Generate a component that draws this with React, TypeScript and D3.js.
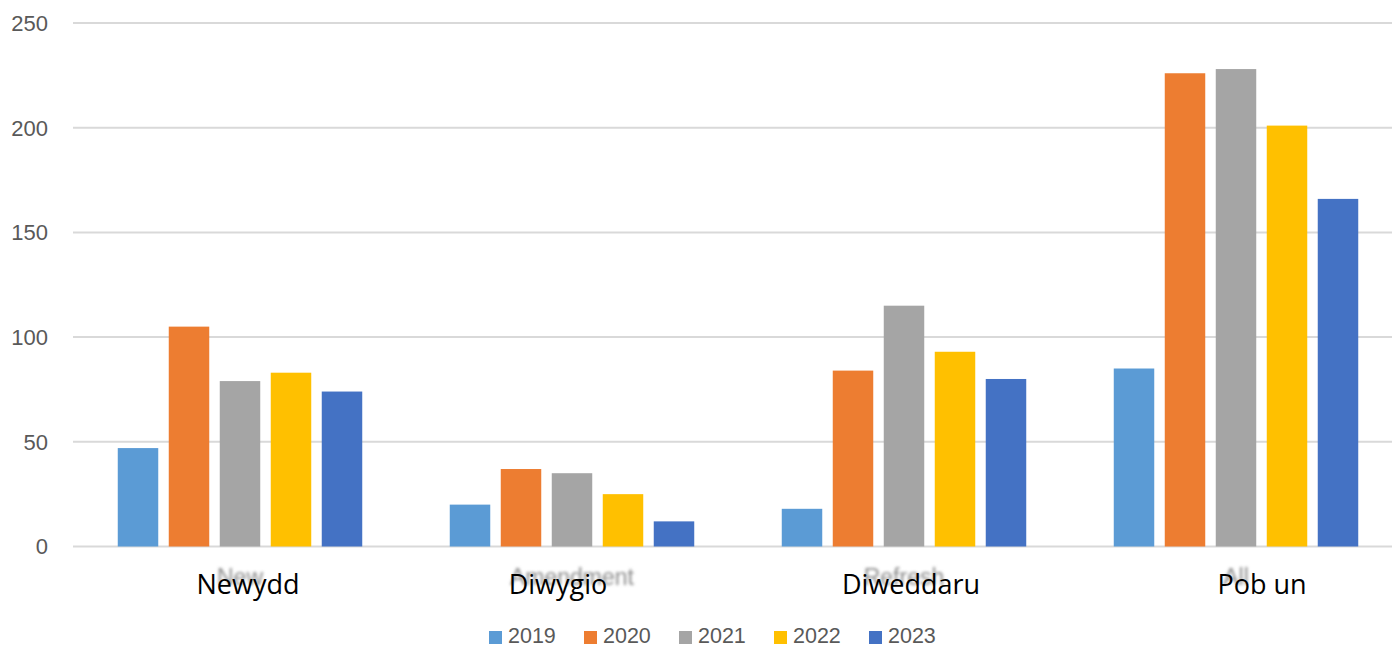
import React from "react";
import * as d3 from "d3";

const categoriesEn = ["New", "Amendment", "Refresh", "All"];
const categoriesCy = ["Newydd", "Diwygio", "Diweddaru", "Pob un"];
const seriesNames = ["2019", "2020", "2021", "2022", "2023"];
const values2019 = [47, 20, 18, 85];
const values2020 = [105, 37, 84, 226];
const values2021 = [79, 35, 115, 228];
const values2022 = [83, 25, 93, 201];
const values2023 = [74, 12, 80, 166];
const yTicks = [0, 50, 100, 150, 200, 250];

const seriesValues = [values2019, values2020, values2021, values2022, values2023];
const colors = ["#5B9BD5", "#ED7D31", "#A5A5A5", "#FFC000", "#4472C4"];
// overlay label horizontal shifts (layout only)
const cyLabelShift = [8, -14, 7, 26];

const W = 1392;
const H = 648;

export default function App() {
  const y = d3.scaleLinear().domain([0, 250]).range([546.5, 23]);
  const x0 = d3.scaleBand<string>().domain(categoriesEn).range([74, 1402]).paddingInner(0).paddingOuter(0);
  const x1 = d3
    .scaleBand<string>()
    .domain(seriesNames)
    .range([0, x0.bandwidth()])
    .paddingInner(0.206)
    .paddingOuter(0.858);

  const legendX = d3.scalePoint<string>().domain(seriesNames).range([489, 869]);

  return (
    <div style={{ position: "absolute", left: 0, top: 0 }}>
      <svg width={W} height={H} style={{ display: "block", background: "#fff" }}>
        <defs>
          <filter id="blurEn" filterUnits="userSpaceOnUse" x="0" y="540" width={W} height="80">
            <feGaussianBlur stdDeviation="1.6" />
          </filter>
        </defs>
        {yTicks.map((t) => (
          <g key={t}>
            <line x1={73} x2={W} y1={y(t)} y2={y(t)} stroke="#d9d9d9" strokeWidth={2} />
            <text
              x={48}
              y={y(t)}
              dy="0.36em"
              textAnchor="end"
              fontFamily="'Liberation Sans', Arial, sans-serif"
              fontSize={22}
              fill="#595959"
            >
              {t}
            </text>
          </g>
        ))}
        {categoriesEn.map((c, ci) => (
          <g key={c} transform={`translate(${x0(c)},0)`}>
            {seriesNames.map((s, si) => {
              const v = seriesValues[si][ci];
              return (
                <rect
                  key={s}
                  x={x1(s)}
                  y={y(v)}
                  width={x1.bandwidth()}
                  height={y(0) - y(v)}
                  fill={colors[si]}
                />
              );
            })}
          </g>
        ))}
        {categoriesEn.map((c) => (
          <text
            key={"en" + c}
            x={(x0(c) ?? 0) + x0.bandwidth() / 2}
            y={585}
            textAnchor="middle"
            fontFamily="'Liberation Sans', Arial, sans-serif"
            fontSize={23}
            fill="#8c8c8c"
            filter="url(#blurEn)"
          >
            {c}
          </text>
        ))}
        {categoriesEn.map((c, ci) => (
          <text
            key={"cy" + c}
            x={(x0(c) ?? 0) + x0.bandwidth() / 2 + cyLabelShift[ci]}
            y={594}
            textAnchor="middle"
            fontFamily="'Open Sans', sans-serif"
            fontSize={27}
            fill="#000"
          >
            {categoriesCy[ci]}
          </text>
        ))}
        {seriesNames.map((s, si) => (
          <g key={"lg" + s} transform={`translate(${legendX(s)},0)`}>
            <rect x={0} y={631} width={13} height={13} fill={colors[si]} />
            <text
              x={19}
              y={643}
              fontFamily="'Liberation Sans', Arial, sans-serif"
              fontSize={21.5}
              fill="#595959"
            >
              {s}
            </text>
          </g>
        ))}
      </svg>
    </div>
  );
}
